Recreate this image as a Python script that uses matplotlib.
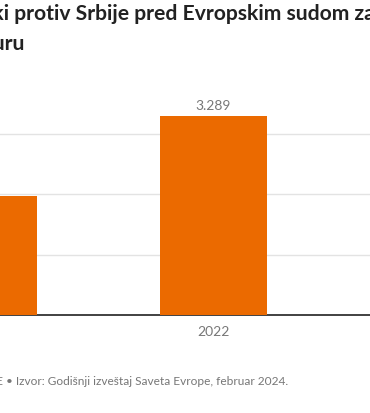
import matplotlib.pyplot as plt

# data
years = ['2021', '2022']
cases = [1967, 3289]
grid_vals = [1000, 2000, 3000]

title_l1 = 'Broj predstavki protiv Srbije pred Evropskim sudom za ljudska'
title_l2 = 'prava u Strazburu'
footer = 'Grafika: RSE • Izvor: Godišnji izveštaj Saveta Evrope, februar 2024.'

W, H = 370, 414
fig = plt.figure(figsize=(W / 100, H / 100), dpi=100)
fig.patch.set_facecolor('white')

# axes reach past the figure edges, the picture is a crop
ax_left, ax_right = -185, 555
ax_bottom, ax_top = H - 316, H - 90
ax = fig.add_axes([ax_left / W, ax_bottom / H, (ax_right - ax_left) / W, (ax_top - ax_bottom) / H])

x = range(len(years))
ax.bar(x, cases, width=0.465, color='#EB6A00', zorder=3)
for xi, v in zip(x, cases):
    ax.text(xi, v + 90, f'{v:,}'.replace(',', '.'), ha='center', va='bottom',
            fontsize=10, color='#777777', family='Lato')

ax.set_xlim(-0.7326, 2.4848)
ax.set_ylim(0, (ax_top - ax_bottom) / 0.0605)
ax.set_yticks(grid_vals)
ax.set_yticklabels([])
ax.tick_params(axis='y', length=0)
ax.grid(axis='y', color='#e3e3e3', linewidth=1, zorder=0)
ax.set_xticks(list(x))
ax.set_xticklabels(years, fontsize=10, color='#777777', family='Lato')
ax.tick_params(axis='x', length=0, pad=7)
for s in ['top', 'right', 'left']:
    ax.spines[s].set_visible(False)
ax.spines['bottom'].set_color('#333333')
ax.spines['bottom'].set_linewidth(1.3)

fig.text(-134 / W, 1 - 20 / H, title_l1, fontsize=15.2, fontweight='bold',
         color='#222222', family='Lato', va='baseline')
fig.text(-141 / W, 1 - 50 / H, title_l2, fontsize=15.2, fontweight='bold',
         color='#222222', family='Lato', va='baseline')
fig.text(-62 / W, 1 - 385 / H, footer, fontsize=8.56, color='#777777',
         family='Lato', va='baseline')

fig.savefig('out.png', dpi=100)
